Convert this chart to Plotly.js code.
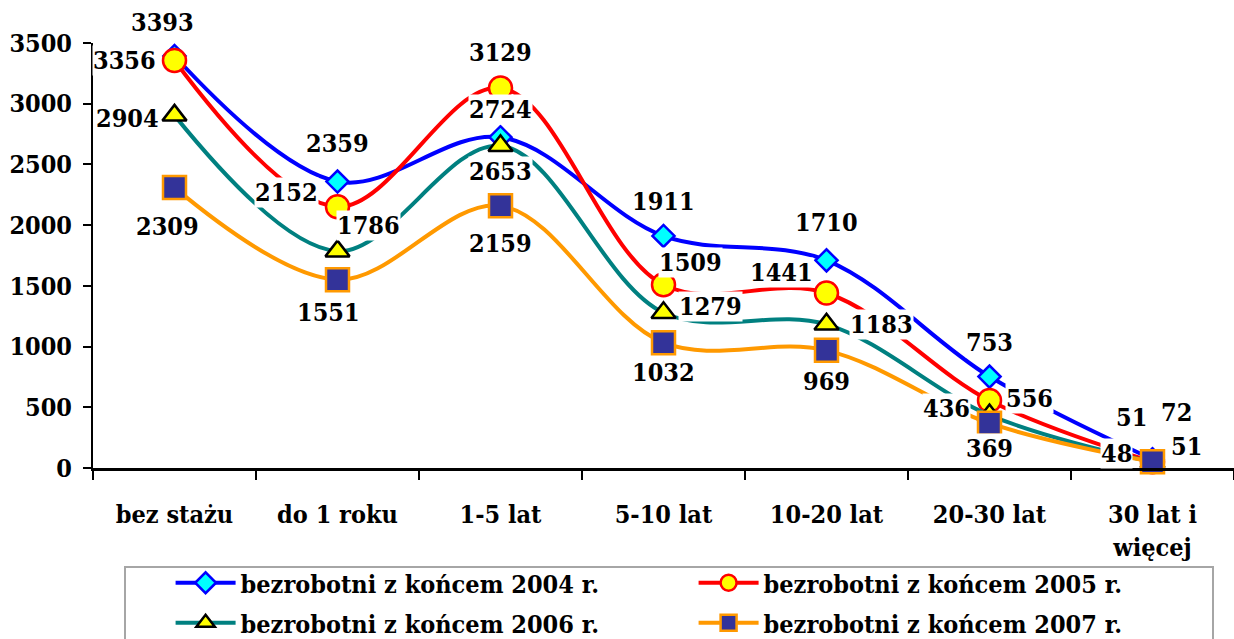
<!DOCTYPE html>
<html>
<head>
<meta charset="utf-8">
<script src="https://cdn.plot.ly/plotly-3.0.1.min.js"></script>
<style>html,body{margin:0;padding:0;background:#fff}#chart{width:1234px;height:639px}</style>
</head>
<body>
<div id="chart"></div>
<script>
// ---- data ----
var categories = ['bez stażu', 'do 1 roku', '1-5 lat', '5-10 lat', '10-20 lat', '20-30 lat', '30 lat i<br>więcej'];
var seriesNames = ['bezrobotni z końcem 2004 r.', 'bezrobotni z końcem 2005 r.', 'bezrobotni z końcem 2006 r.', 'bezrobotni z końcem 2007 r.'];
var values2004 = [3393, 2359, 2724, 1911, 1710, 753, 72];
var values2005 = [3356, 2152, 3129, 1509, 1441, 556, 51];
var values2006 = [2904, 1786, 2653, 1279, 1183, 436, 48];
var values2007 = [2309, 1551, 2159, 1032, 969, 369, 51];
var yTicks = [0, 500, 1000, 1500, 2000, 2500, 3000, 3500];

// ---- styles (label offsets in px relative to the marker: [dx, dy], dy down) ----
var styles = [
  {line: '#0000FF', symbol: 'diamond', size: 17, fill: '#00FFFF', border: '#0000FF', legend: 'legend',
   offsets: [[-12,-33],[0,-38],[0,-28],[0,-34],[0,-38],[0,-34],[24,-47]]},
  {line: '#FF0000', symbol: 'circle', size: 23, fill: '#FFFF00', border: '#FF0000', legend: 'legend',
   offsets: [[-50,0],[-51,-14],[0,-36],[27,-22],[-45,-21],[40,-2],[-21,-44]]},
  {line: '#008080', symbol: 'triangle-up', size: 21, fill: '#FFFF00', border: '#000000', legend: 'legend2',
   offsets: [[-47,3],[31,-26],[0,26],[47,-6],[55,0],[-43,-7],[-36,-9]]},
  {line: '#FF9900', symbol: 'square', size: 23, fill: '#333399', border: '#FF9900', legend: 'legend2',
   offsets: [[-7,39],[-9,33],[0,38],[0,30],[0,31],[0,25],[34,-15]]}
];
var allValues = [values2004, values2005, values2006, values2007];

var FONT = "'DejaVu Serif Condensed', 'DejaVu Serif', serif";
var SIZE = 25;
var traces = [];
var annotations = [];
allValues.forEach(function (vals, i) {
  var s = styles[i];
  traces.push({
    type: 'scatter', mode: 'lines+markers', name: seriesNames[i], legend: s.legend,
    x: categories, y: vals,
    line: {color: s.line, width: 4, shape: 'spline', smoothing: 1},
    marker: {symbol: s.symbol, size: s.size, color: s.fill, line: {color: s.border, width: 2.5}},
    cliponaxis: false
  });
  vals.forEach(function (v, j) {
    annotations.push({
      x: categories[j], y: v, xref: 'x', yref: 'y', text: String(v), showarrow: false,
      xanchor: 'center', yanchor: 'middle', xshift: s.offsets[j][0], yshift: -s.offsets[j][1],
      bgcolor: '#FFFFFF', borderpad: 0,
      font: {family: FONT, size: SIZE, color: '#000', weight: 'bold'}
    });
  });
});

function legendAt(yPaper) {
  return {
    orientation: 'h', x: 0.068, xanchor: 'left', y: yPaper, yanchor: 'middle',
    bgcolor: 'rgba(0,0,0,0)', borderwidth: 0, entrywidth: 448, itemwidth: 60,
    font: {family: FONT, size: SIZE, color: '#000', weight: 'bold'}
  };
}

var layout = {
  width: 1234, height: 639,
  margin: {l: 93, r: 0, t: 43, b: 171, autoexpand: false},
  paper_bgcolor: '#fff', plot_bgcolor: '#fff',
  font: {family: FONT, size: SIZE, color: '#000', weight: 'bold'},
  showlegend: true,
  xaxis: {
    type: 'category', range: [-0.5, 6.5], showgrid: false, zeroline: false,
    showline: true, linecolor: '#000', linewidth: 3,
    ticks: 'outside', tickson: 'boundaries', ticklen: 9, tickwidth: 2, tickcolor: '#000',
    ticklabelstandoff: 22,
    tickfont: {family: FONT, size: SIZE, color: '#000', weight: 'bold'}
  },
  yaxis: {
    range: [0, 3500], tickvals: yTicks, ticktext: yTicks.map(String),
    showgrid: false, zeroline: false,
    showline: true, linecolor: '#000', linewidth: 2,
    ticks: 'outside', ticklen: 8, tickwidth: 2, tickcolor: '#000',
    ticklabelstandoff: 6,
    tickfont: {family: FONT, size: SIZE, color: '#000', weight: 'bold'}
  },
  legend: legendAt((468 - 583) / 425),
  legend2: legendAt((468 - 623) / 425),
  shapes: [{
    type: 'rect', xref: 'paper', yref: 'paper',
    x0: (125 - 93) / 1141, x1: (1213 - 93) / 1141, y0: -0.233, y1: -0.6,
    line: {color: '#A6A6A6', width: 2}, fillcolor: 'rgba(0,0,0,0)', layer: 'below'
  }],
  annotations: annotations
};

Plotly.newPlot('chart', traces, layout, {displayModeBar: false, staticPlot: true});
</script>
</body>
</html>
